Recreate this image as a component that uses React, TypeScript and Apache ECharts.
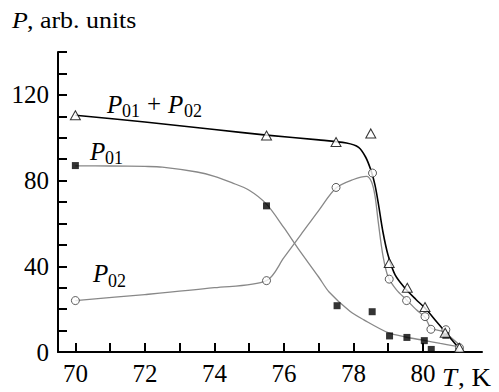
import React, { useEffect, useRef } from "react";
import * as echarts from "echarts";

// Measured points (T in K, P in arb. units)
const sumT = [70, 75.5, 77.5, 78.5, 79.03, 79.55, 80.06, 80.64, 81.05];
const sumP = [110.5, 101, 98, 102, 41.5, 30, 21, 9, 2];

const p02T = [70, 75.5, 77.5, 78.55, 79.03, 79.53, 80.06, 80.23, 80.66, 81.05];
const p02P = [24, 33.3, 76.8, 83.5, 34, 24, 16.5, 10.6, 10.4, 2];

const p01T = [70, 75.5, 77.53, 78.54, 79.04, 79.54, 80.04, 80.24, 80.66];
const p01P = [87, 68.2, 21.6, 18.8, 7.5, 6.8, 5.3, 1.2, 7.8];

// Fitted curves
const sumFitT = [70, 72, 74, 75.5, 77, 77.8, 78.15, 78.35, 78.5, 78.62, 78.72, 78.85, 79.0, 79.2, 79.5, 79.8, 80.06, 80.4, 80.66, 81.05];
const sumFitP = [110.5, 107.3, 103.8, 101.2, 99, 97.5, 95.5, 91, 85, 78, 69, 56, 45, 36, 29.5, 24.5, 20.5, 14, 9, 1.5];

const p02FitT = [70, 72, 74, 75.5, 76, 76.5, 77, 77.5, 78, 78.38, 78.52, 78.62, 78.72, 78.85, 79.0, 79.24, 79.53, 79.82, 80.06, 80.24, 80.58, 81.07];
const p02FitP = [24, 26.8, 30, 33.3, 44, 55, 66, 76.5, 80.5, 82, 79.5, 73, 60, 45, 35, 29, 24.3, 19.6, 16.2, 11.1, 9.5, 3];

const p01FitT = [70, 71, 72, 72.5, 73.5, 74, 74.5, 75, 75.5, 76, 76.4, 77, 77.3, 77.9, 78.3, 79, 79.5, 80, 80.5, 81.02];
const p01FitP = [86.9, 86.8, 86.6, 86.3, 84, 82, 79, 75.5, 69, 58, 48.5, 35, 28, 19, 15, 9, 7, 5.5, 4, 2.5];

// Axis ticks and labels
const xTicks = [70, 71, 72, 73, 74, 75, 76, 77, 78, 79, 80, 81];
const xLabels = [70, 72, 74, 76, 78, 80];
const yLabels = [0, 40, 80, 120];

const FONT = "Liberation Serif";

const zip = (a: number[], b: number[]) => a.map((v, i) => [v, b[i]]);

function txt(text: string, x: number, y: number, size: number, italic = false, sx = 1) {
  return {
    type: "text",
    x,
    y,
    scaleX: sx,
    style: {
      text,
      fontFamily: FONT,
      fontSize: size,
      fontStyle: italic ? "italic" : "normal",
      fill: "#000",
      verticalAlign: "middle",
      align: "left",
    },
    silent: true,
  };
}

export default function App() {
  const ref = useRef<HTMLDivElement>(null);
  useEffect(() => {
    if (!ref.current) return;
    const chart = echarts.init(ref.current, null, { renderer: "svg" });
    const option: any = {
      animation: false,
      backgroundColor: "#fff",
      textStyle: { fontFamily: FONT },
      grid: { left: 58, right: 17, top: 52, bottom: 40 },
      xAxis: {
        type: "value",
        min: 69.5,
        max: 81.7,
        splitLine: { show: false },
        axisLine: { lineStyle: { color: "#000", width: 2 } },
        axisTick: {
          inside: true,
          length: 9,
          customValues: xTicks,
          lineStyle: { color: "#000", width: 2 },
        },
        axisLabel: {
          customValues: xLabels,
          color: "#000",
          fontFamily: FONT,
          fontSize: 25,
          margin: 9,
        },
      },
      yAxis: {
        type: "value",
        min: 0,
        max: 140,
        interval: 10,
        splitLine: { show: false },
        axisLine: { show: true, lineStyle: { color: "#000", width: 2 } },
        axisTick: {
          show: true,
          inside: true,
          length: 9,
          lineStyle: { color: "#000", width: 2 },
        },
        axisLabel: {
          customValues: yLabels,
          color: "#000",
          fontFamily: FONT,
          fontSize: 25,
          margin: 9,
        },
      },
      series: [
        {
          type: "line",
          data: zip(p01FitT, p01FitP),
          smooth: 0.3,
          showSymbol: false,
          silent: true,
          lineStyle: { color: "#888", width: 1.3 },
          z: 2,
        },
        {
          type: "line",
          data: zip(p02FitT, p02FitP),
          smooth: 0.3,
          showSymbol: false,
          silent: true,
          lineStyle: { color: "#888", width: 1.3 },
          z: 2,
        },
        {
          type: "line",
          data: zip(sumFitT, sumFitP),
          smooth: 0.3,
          showSymbol: false,
          silent: true,
          lineStyle: { color: "#000", width: 1.6 },
          z: 3,
        },
        {
          type: "scatter",
          data: zip(p01T, p01P),
          symbol: "rect",
          symbolSize: 7,
          itemStyle: { color: "#000" },
          z: 5,
        },
        {
          type: "scatter",
          data: zip(p02T, p02P),
          symbol: "circle",
          symbolSize: 8,
          itemStyle: { color: "#fff", borderColor: "#333", borderWidth: 1 },
          z: 5,
        },
        {
          type: "scatter",
          data: zip(sumT, sumP),
          symbol: "triangle",
          symbolSize: [10, 9],
          itemStyle: { color: "#fff", borderColor: "#000", borderWidth: 1 },
          z: 6,
        },
      ],
      graphic: [
        // y-axis title
        txt("P", 12, 20, 24, true, 1.08),
        txt(", arb. units", 27, 20, 24, false, 1.08),
        // x-axis title
        txt("T", 442, 378, 25, true, 1.08),
        txt(", K", 458, 378, 25, false, 1.08),
        // P01 + P02
        txt("P", 107, 104, 25, true),
        txt("01", 122, 111, 18),
        txt("+", 147, 103, 25),
        txt("P", 168, 104, 25, true),
        txt("02", 184, 111, 18),
        // P01
        txt("P", 90, 151, 25, true),
        txt("01", 105, 158, 18),
        // P02
        txt("P", 93, 273, 25, true),
        txt("02", 108, 281, 18),
      ],
    };
    chart.setOption(option);
    return () => chart.dispose();
  }, []);
  return (
    <div
      ref={ref}
      style={{ position: "fixed", left: 0, top: 0, width: 499, height: 392, background: "#fff" }}
    />
  );
}
